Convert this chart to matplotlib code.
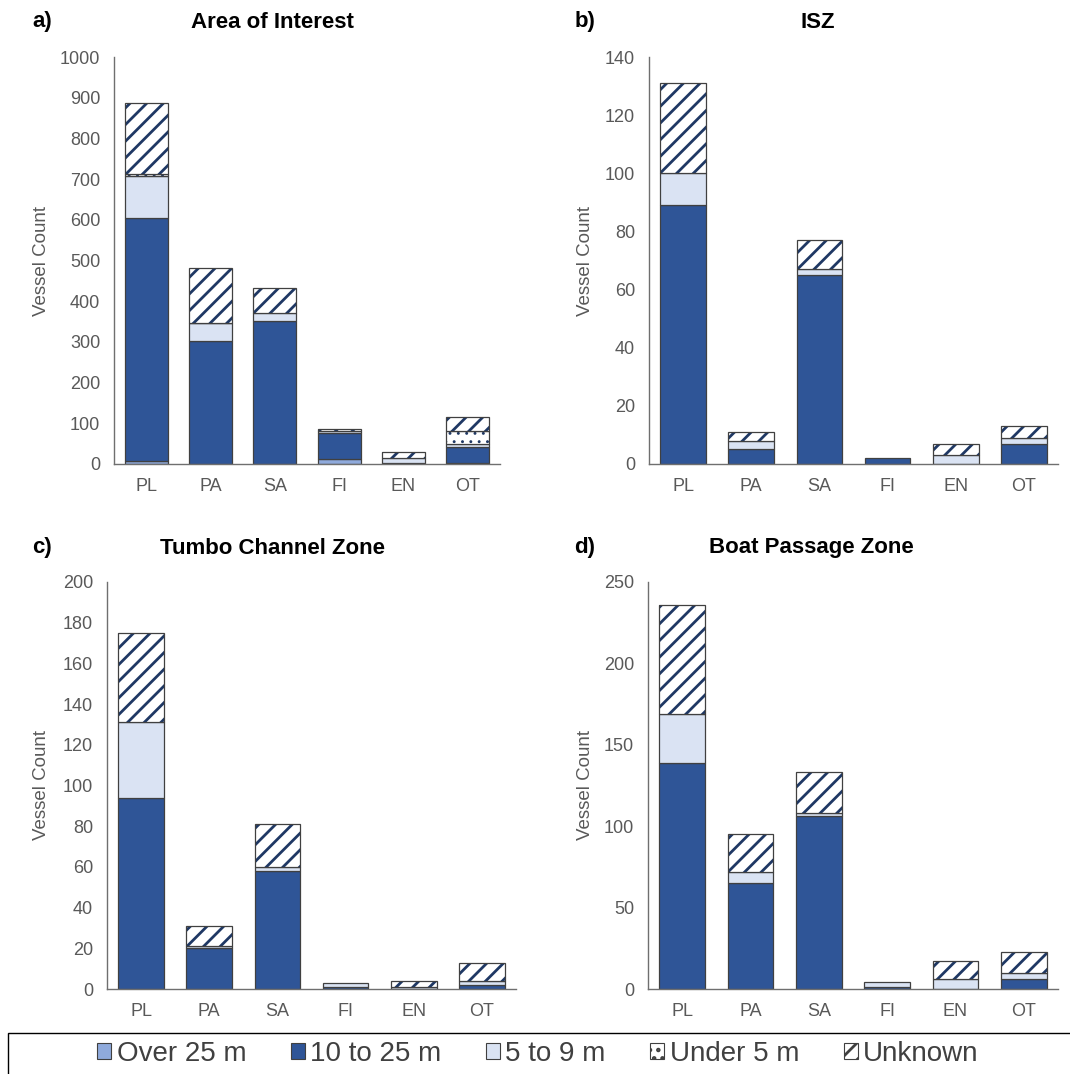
import matplotlib
matplotlib.use('Agg')
import matplotlib.pyplot as plt
from matplotlib.patches import Patch, Rectangle
import numpy as np

W, H = 1070, 1074
plt.rcParams['font.family'] = ['Liberation Sans', 'DejaVu Sans']
plt.rcParams['hatch.linewidth'] = 2.0

categories = ['PL', 'PA', 'SA', 'FI', 'EN', 'OT']
size_classes = ['Over 25 m', '10 to 25 m', '5 to 9 m', 'Under 5 m', 'Unknown']

# a) Area of Interest
aoi_over25 = [8, 0, 0, 13, 1, 2]
aoi_10to25 = [597, 303, 352, 63, 2, 39]
aoi_5to9 = [103, 43, 20, 6, 12, 9]
aoi_under5 = [4, 1, 0, 0, 0, 30]
aoi_unknown = [174, 134, 60, 4, 14, 35]

# b) ISZ
isz_over25 = [0, 0, 0, 0, 0, 0]
isz_10to25 = [89, 5, 65, 2, 0, 7]
isz_5to9 = [11, 3, 2, 0, 3, 2]
isz_under5 = [0, 0, 0, 0, 0, 0]
isz_unknown = [31, 3, 10, 0, 4, 4]

# c) Tumbo Channel Zone
tcz_over25 = [0, 0, 0, 0, 0, 0]
tcz_10to25 = [94, 20, 58, 1, 0, 2]
tcz_5to9 = [37, 1, 2, 2, 1, 2]
tcz_under5 = [0, 0, 0, 0, 0, 0]
tcz_unknown = [44, 10, 21, 0, 3, 9]

# d) Boat Passage Zone
bpz_over25 = [0, 0, 0, 0, 0, 0]
bpz_10to25 = [139, 65, 106, 1, 0, 6]
bpz_5to9 = [30, 7, 2, 3, 6, 4]
bpz_under5 = [0, 0, 0, 0, 0, 0]
bpz_unknown = [67, 23, 25, 0, 11, 13]

navy = '#1f3864'
edge = '#404040'
styles = [
    dict(facecolor='#8faadc', hatch=None, hlw=None),
    dict(facecolor='#2f5597', hatch=None, hlw=None),
    dict(facecolor='#dae3f3', hatch=None, hlw=None),
    dict(facecolor='white', hatch='..', hlw=0.9),
    dict(facecolor='white', hatch='//', hlw=2.0),
]
gray = '#595959'

def rect(x0, x1, ytop, ybot):
    return [x0 / W, 1 - ybot / H, (x1 - x0) / W, (ybot - ytop) / H]

def draw_panel(ax, series, ymax, ystep):
    x = np.arange(len(categories))
    bottom = np.zeros(len(categories))
    for vals, st in zip(series, styles):
        vals = np.array(vals, dtype=float)
        m = vals > 0
        if st['hatch']:
            with plt.rc_context({'hatch.linewidth': st['hlw']}):
                bars = ax.bar(x[m], vals[m], 0.67, bottom=bottom[m], color='white',
                              hatch=st['hatch'], edgecolor=navy, linewidth=0)
                for b in bars:
                    if hasattr(b, 'set_hatch_linewidth'):
                        b.set_hatch_linewidth(st['hlw'])
            ax.bar(x[m], vals[m], 0.67, bottom=bottom[m], fill=False,
                   edgecolor=edge, linewidth=0.9)
        else:
            ax.bar(x[m], vals[m], 0.67, bottom=bottom[m], color=st['facecolor'],
                   edgecolor=edge, linewidth=0.9)
        bottom += vals
    ax.set_xlim(-0.5, len(categories) - 0.5)
    ax.set_ylim(0, ymax)
    ax.set_yticks(np.arange(0, ymax + 1, ystep))
    ax.set_xticks(x)
    ax.set_xticklabels(categories)
    for s in ['top', 'right']:
        ax.spines[s].set_visible(False)
    for s in ['left', 'bottom']:
        ax.spines[s].set_color('#6f6f6f')
        ax.spines[s].set_linewidth(1.0)
    ax.tick_params(length=0, labelsize=13, colors=gray, pad=10)

fig = plt.figure(figsize=(W / 100, H / 100), dpi=100)

panels = [
    ('a)', 'Area of Interest', rect(114, 500, 57, 464),
     [aoi_over25, aoi_10to25, aoi_5to9, aoi_under5, aoi_unknown], 1000, 100, 42, 272, 22),
    ('b)', 'ISZ', rect(649, 1058, 57, 464),
     [isz_over25, isz_10to25, isz_5to9, isz_under5, isz_unknown], 140, 20, 585, 818, 22),
    ('c)', 'Tumbo Channel Zone', rect(107, 516, 582, 989),
     [tcz_over25, tcz_10to25, tcz_5to9, tcz_under5, tcz_unknown], 200, 20, 42, 272, 548),
    ('d)', 'Boat Passage Zone', rect(648, 1058, 582, 989),
     [bpz_over25, bpz_10to25, bpz_5to9, bpz_under5, bpz_unknown], 250, 50, 585, 811, 548),
]

for lab, title, r, series, ymax, ystep, ylx, tx, ty in panels:
    ax = fig.add_axes(r)
    draw_panel(ax, series, ymax, ystep)
    fig.text(ylx / W, r[1] + r[3] / 2, 'Vessel Count', rotation=90, ha='center',
             va='center', fontsize=13.5, color=gray)
    fig.text(tx / W, 1 - ty / H, title, ha='center', va='center',
             fontsize=16, fontweight='bold')
    fig.text(ylx / W, 1 - ty / H, lab, ha='center', va='center',
             fontsize=16, fontweight='bold')

# legend box
fig.patches.append(Rectangle((8 / W, -0.01), 1.1, (1074 - 1033) / H + 0.01,
                             transform=fig.transFigure, fill=False,
                             edgecolor='black', linewidth=1.0))
with plt.rc_context({'hatch.linewidth': 1.0}):
    handles = [Patch(facecolor=st['facecolor'], hatch=st['hatch'], edgecolor=edge,
                     linewidth=0.8) for st in styles]
fig.legend(handles, size_classes, loc='center', bbox_to_anchor=(538 / W, 1 - 1054 / H),
           ncol=5, frameon=False, fontsize=20, handlelength=0.5, handleheight=0.5,
           handletextpad=0.2, columnspacing=1.6, labelcolor='#404040')

fig.savefig('out.png', dpi=100)
